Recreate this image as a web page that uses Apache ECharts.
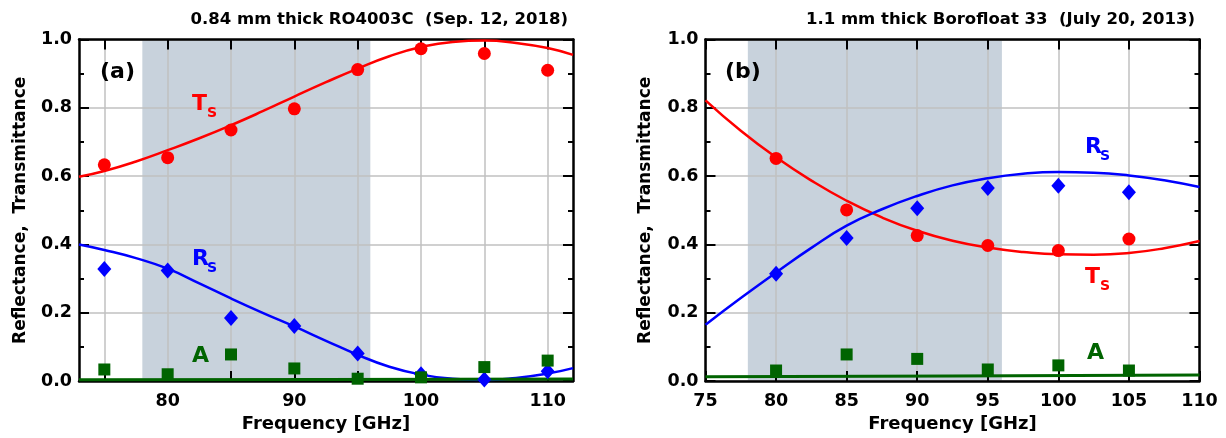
<!DOCTYPE html>
<html>
<head>
<meta charset="utf-8">
<script src="https://cdn.jsdelivr.net/npm/echarts@6/dist/echarts.min.js"></script>
<style>
html,body{margin:0;padding:0;background:#fff;}
#c{width:1226px;height:438px;}
</style>
</head>
<body>
<div id="c"></div>
<script>
// ---------- Data: panel (a) 0.84 mm RO4003C ----------
const freqL = [75, 80, 85, 90, 95, 100, 105, 110];
const tsL = [0.633, 0.654, 0.735, 0.797, 0.912, 0.973, 0.959, 0.910];
const rsL = [0.328, 0.324, 0.185, 0.161, 0.081, 0.020, 0.005, 0.029];
const aL  = [0.034, 0.020, 0.078, 0.037, 0.007, 0.011, 0.041, 0.060];
const fitFreqL = [73, 75, 77.5, 80, 82.5, 85, 87.5, 90, 92.5, 95, 97.5, 100, 102.5, 105, 107.5, 110, 112];
const tsFitL = [0.598, 0.615, 0.643, 0.676, 0.711, 0.749, 0.790, 0.833, 0.875, 0.915, 0.951, 0.978, 0.993, 0.997, 0.990, 0.975, 0.955];
const rsFitL = [0.400, 0.384, 0.360, 0.329, 0.286, 0.242, 0.200, 0.160, 0.118, 0.077, 0.042, 0.019, 0.007, 0.003, 0.009, 0.022, 0.038];
const aFitFreqL = [73, 92.5, 112];
const aFitL = [0.004, 0.005, 0.006];
const shadeL = [78, 96];
const xTicksL = [75, 80, 85, 90, 95, 100, 105, 110];
const xLabelsL = [80, 90, 100, 110];

// ---------- Data: panel (b) 1.1 mm Borofloat 33 ----------
const freqR = [80, 85, 90, 95, 100, 105];
const tsR = [0.652, 0.501, 0.426, 0.397, 0.382, 0.416];
const rsR = [0.314, 0.419, 0.506, 0.565, 0.572, 0.553];
const aR  = [0.031, 0.078, 0.065, 0.034, 0.046, 0.031];
const fitFreqR = [75, 77.5, 80, 82.5, 85, 87.5, 90, 92.5, 95, 97.5, 100, 102.5, 105, 107.5, 110];
const tsFitR = [0.822, 0.733, 0.655, 0.587, 0.528, 0.479, 0.440, 0.411, 0.391, 0.378, 0.371, 0.370, 0.375, 0.389, 0.410];
const rsFitR = [0.165, 0.243, 0.318, 0.390, 0.455, 0.503, 0.542, 0.573, 0.594, 0.607, 0.612, 0.610, 0.602, 0.588, 0.568];
const aFitFreqR = [75, 92.5, 110];
const aFitR = [0.013, 0.015, 0.018];
const shadeR = [78, 96];

const titleL = '0.84 mm thick RO4003C  (Sep. 12, 2018)';
const titleR = '1.1 mm thick Borofloat 33  (July 20, 2013)';
const xName = 'Frequency [GHz]';
const yName = 'Reflectance,  Transmittance';

const RED = '#ff0000', BLUE = '#0000ff', GREEN = '#006400', SHADE = '#c8d2dc', GRID = '#c0c0c0';
const FONT = 'DejaVu Sans';

const zip = (xs, ys) => xs.map((x, i) => [x, ys[i]]);

const chart = echarts.init(document.getElementById('c'), null, {renderer: 'canvas'});

function xBottom(gi, min, max, extra) {
  return Object.assign({
    type: 'value', gridIndex: gi, position: 'bottom', min: min, max: max, z: 1,
    name: xName, nameLocation: 'middle', nameGap: 32,
    nameTextStyle: {fontFamily: FONT, fontWeight: 'bold', fontSize: 18, color: '#000'},
    axisLine: {show: true, onZero: false, lineStyle: {color: '#000', width: 2.5}},
    axisTick: {show: true, inside: true, length: 10, lineStyle: {color: '#000', width: 2}},
    axisLabel: {fontFamily: FONT, fontWeight: 'bold', fontSize: 17.5, color: '#000', margin: 11},
    splitLine: {show: true, lineStyle: {color: GRID, width: 1.5}}
  }, extra || {});
}
function xTop(gi, min, max, extra) {
  return Object.assign({
    type: 'value', gridIndex: gi, position: 'top', min: min, max: max, z: 1,
    axisLine: {show: true, onZero: false, lineStyle: {color: '#000', width: 2.5}},
    axisTick: {show: true, inside: true, length: 10, lineStyle: {color: '#000', width: 2}},
    axisLabel: {show: false},
    splitLine: {show: false}
  }, extra || {});
}
function yLeft(gi, gap) {
  return {
    type: 'value', gridIndex: gi, position: 'left', min: 0, max: 1, interval: 0.2, z: 1,
    name: yName, nameLocation: 'middle', nameGap: gap,
    nameTextStyle: {fontFamily: FONT, fontWeight: 'bold', fontSize: 17, color: '#000'},
    axisLine: {show: true, onZero: false, lineStyle: {color: '#000', width: 2.5}},
    axisTick: {show: true, inside: true, length: 10, lineStyle: {color: '#000', width: 2}},
    minorTick: {show: true, splitNumber: 2, length: 5, lineStyle: {color: '#000', width: 2}},
    axisLabel: {fontFamily: FONT, fontWeight: 'bold', fontSize: 17.5, color: '#000', margin: 7,
      formatter: v => v.toFixed(1)},
    splitLine: {show: true, lineStyle: {color: GRID, width: 1.5}}
  };
}
function yRight(gi) {
  return {
    type: 'value', gridIndex: gi, position: 'right', min: 0, max: 1, interval: 0.2, z: 1,
    axisLine: {show: true, onZero: false, lineStyle: {color: '#000', width: 2.5}},
    axisTick: {show: true, inside: true, length: 10, lineStyle: {color: '#000', width: 2}},
    minorTick: {show: true, splitNumber: 2, length: 5, lineStyle: {color: '#000', width: 2}},
    axisLabel: {show: false},
    splitLine: {show: false}
  };
}

function panelSeries(xi, yi, f, ts, rs, a, ff, tsF, rsF, aff, aF, shade) {
  const common = {xAxisIndex: xi, yAxisIndex: yi};
  return [
    Object.assign({type: 'line', data: zip(ff, tsF), smooth: 0.5, showSymbol: false,
      lineStyle: {color: RED, width: 2.5}, z: 3,
      markArea: {silent: true, z: 0, itemStyle: {color: SHADE},
        data: [[{xAxis: shade[0]}, {xAxis: shade[1]}]]}}, common),
    Object.assign({type: 'line', data: zip(ff, rsF), smooth: 0.5, showSymbol: false,
      lineStyle: {color: BLUE, width: 2.5}, z: 3}, common),
    Object.assign({type: 'line', data: zip(aff, aF), smooth: 0.5, showSymbol: false,
      lineStyle: {color: GREEN, width: 3}, z: 3}, common),
    Object.assign({type: 'scatter', data: zip(f, ts), symbol: 'circle', symbolSize: 13,
      itemStyle: {color: RED, opacity: 1}, z: 4}, common),
    Object.assign({type: 'scatter', data: zip(f, rs), symbol: 'diamond', symbolSize: [14, 16],
      itemStyle: {color: BLUE, opacity: 1}, z: 4}, common),
    Object.assign({type: 'scatter', data: zip(f, a), symbol: 'rect', symbolSize: 12,
      itemStyle: {color: GREEN, opacity: 1}, z: 4}, common)
  ];
}

function txt(x, y, text, color, size, align) {
  return {type: 'text', x: x, y: y, z: 10, silent: true,
    style: {text: text, fill: color, font: 'bold ' + size + 'px "' + FONT + '"',
      textAlign: align || 'left', textVerticalAlign: 'middle'}};
}

const option = {
  animation: false,
  backgroundColor: '#ffffff',
  grid: [
    {left: 79, right: 653, top: 39.5, bottom: 56.3, containLabel: false},
    {left: 705.5, right: 26.5, top: 39.5, bottom: 56.3, containLabel: false}
  ],
  xAxis: [
    xBottom(0, 73, 112, {
      axisTick: {show: true, inside: true, length: 10, customValues: xTicksL, lineStyle: {color: '#000', width: 2}},
      axisLabel: {fontFamily: FONT, fontWeight: 'bold', fontSize: 17.5, color: '#000', margin: 11, customValues: xLabelsL}
    }),
    xTop(0, 73, 112, {
      axisTick: {show: true, inside: true, length: 10, customValues: xTicksL, lineStyle: {color: '#000', width: 2}}
    }),
    xBottom(1, 75, 110, {interval: 5}),
    xTop(1, 75, 110, {interval: 5})
  ],
  yAxis: [yLeft(0, 50), yRight(0), yLeft(1, 51), yRight(1)],
  series: [].concat(
    panelSeries(0, 0, freqL, tsL, rsL, aL, fitFreqL, tsFitL, rsFitL, aFitFreqL, aFitL, shadeL),
    panelSeries(2, 2, freqR, tsR, rsR, aR, fitFreqR, tsFitR, rsFitR, aFitFreqR, aFitR, shadeR)
  ),
  graphic: [
    txt(568, 20, titleL, '#000', 16.5, 'right'),
    txt(1195, 20, titleR, '#000', 16.5, 'right'),
    txt(100, 72, '(a)', '#000', 22),
    txt(192, 104, 'T', RED, 22),
    txt(207, 113, 'S', RED, 14),
    txt(192, 259, 'R', BLUE, 22),
    txt(207, 268, 'S', BLUE, 14),
    txt(192, 356, 'A', GREEN, 22),
    txt(725, 72, '(b)', '#000', 22),
    txt(1085, 147, 'R', BLUE, 22),
    txt(1100, 156, 'S', BLUE, 14),
    txt(1085, 277, 'T', RED, 22),
    txt(1100, 286, 'S', RED, 14),
    txt(1087, 353, 'A', GREEN, 22)
  ]
};
chart.setOption(option);
</script>
</body>
</html>
